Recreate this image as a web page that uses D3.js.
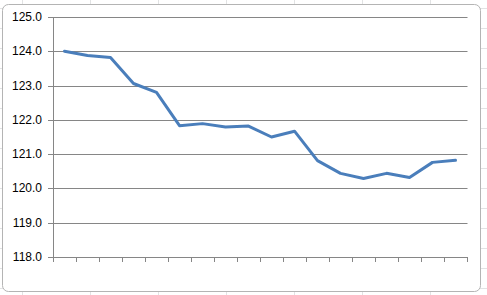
<!DOCTYPE html>
<html>
<head>
<meta charset="utf-8">
<script src="https://cdn.jsdelivr.net/npm/d3@7"></script>
<style>
  html, body { margin: 0; padding: 0; background: #ffffff; }
  svg { display: block; }
  .tick text { font-family: "Liberation Sans", Arial, sans-serif; font-size: 12px; fill: #000; }
</style>
</head>
<body>
<div id="chart"></div>
<script>
// values, one per category
const categories = d3.range(1, 19);
const values = [124.0, 123.88, 123.82, 123.06, 122.8, 121.83, 121.89, 121.79, 121.82,
                121.5, 121.67, 120.81, 120.44, 120.29, 120.44, 120.32, 120.76, 120.82];
const yTicks = [118, 119, 120, 121, 122, 123, 124, 125];

const W = 487, H = 295;
const svg = d3.select("#chart").append("svg")
    .attr("width", W)
    .attr("height", H);

// faint spreadsheet cells behind the chart
const cells = svg.append("g").attr("stroke", "#e2e3e4").attr("stroke-width", 1);
d3.range(22, W, 68).forEach(x => {
    cells.append("line").attr("x1", x + 0.5).attr("x2", x + 0.5).attr("y1", 0).attr("y2", H);
});
d3.range(8, H, 20).forEach(y => {
    cells.append("line").attr("x1", 0).attr("x2", W).attr("y1", y + 0.5).attr("y2", y + 0.5);
});

// chart frame
svg.append("rect")
    .attr("x", 2.5).attr("y", 4.5)
    .attr("width", 478).attr("height", 287)
    .attr("rx", 6).attr("ry", 6)
    .attr("fill", "#fff")
    .attr("stroke", "#b4b4b4");

const plotLeft = 53, plotRight = 467, plotTop = 17, plotBottom = 257;

let x = d3.scaleLinear().domain([0, categories.length]).range([plotLeft, plotRight]);
let y = d3.scaleLinear().domain([118, 125]).range([plotBottom, plotTop]);
let yr = y.copy().interpolate(d3.interpolateRound);

// gridlines
svg.append("g").selectAll("line")
    .data(yTicks.filter(d => d > 118))
    .join("line")
    .attr("x1", plotLeft).attr("x2", plotRight + 0.5)
    .attr("y1", d => yr(d) + 0.5).attr("y2", d => yr(d) + 0.5)
    .attr("stroke", "#868686");

// y axis
let yAxis = svg.append("g")
    .attr("transform", `translate(${plotLeft},0)`)
    .call(d3.axisLeft(yr).tickValues(yTicks).tickFormat(d3.format(".1f")).tickSize(5).tickPadding(6));
yAxis.select(".domain").attr("stroke", "#868686");
yAxis.selectAll(".tick line").attr("stroke", "#868686");

// x axis, ticks between categories
let xr = x.copy().interpolate(d3.interpolateRound);
let xAxis = svg.append("g")
    .attr("transform", `translate(0,${yr(118)})`)
    .call(d3.axisBottom(xr).tickValues(d3.range(categories.length + 1)).tickFormat("").tickSize(5).tickSizeOuter(0));
xAxis.select(".domain").attr("stroke", "#868686");
xAxis.selectAll(".tick line").attr("stroke", "#868686");

// the series
let line = d3.line()
    .x((d, i) => x(i + 0.5))
    .y(d => y(d));

svg.append("path")
    .datum(values)
    .attr("d", line)
    .attr("fill", "none")
    .attr("stroke", "#4a7ebb")
    .attr("stroke-width", 3)
    .attr("stroke-linejoin", "round")
    .attr("stroke-linecap", "round");
</script>
</body>
</html>
